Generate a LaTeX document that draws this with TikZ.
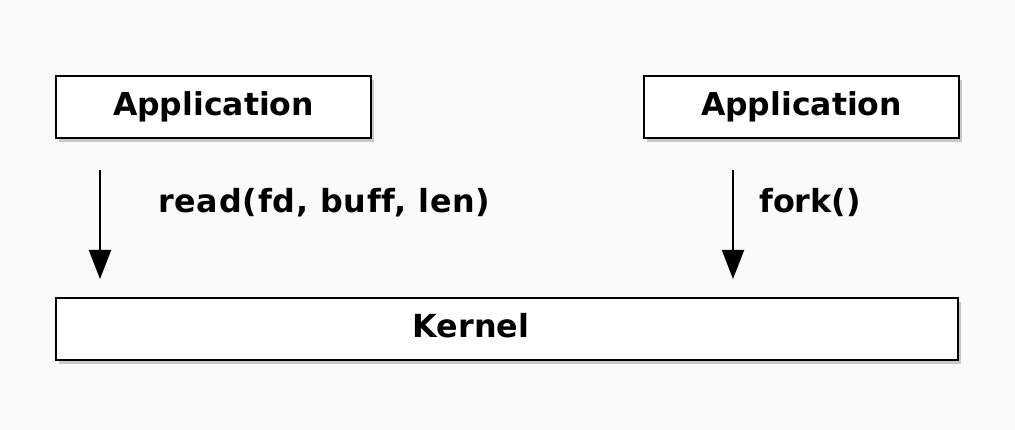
\documentclass[tikz,border=0pt]{standalone}
\usepackage{fontspec}
\setmainfont{DejaVu Sans}[Ligatures=NoCommon]
\newfontfamily\spacedfont{DejaVu Sans}[Ligatures=NoCommon, LetterSpace=2.4]
\usetikzlibrary{arrows.meta,shadows}
\definecolor{bgcol}{HTML}{FAFAFA}
\tikzset{
  box/.style={draw=black, line width=2pt, fill=white, inner sep=0pt,
    drop shadow={shadow xshift=3pt, shadow yshift=-4pt, fill=black, opacity=0.2}},
  lbl/.style={inner sep=0pt, font=\fontsize{31.8}{36}\selectfont\bfseries},
  arr/.style={line width=2pt, -{Triangle[length=29pt,width=22pt]}}
}
\begin{document}
\begin{tikzpicture}[x=1pt,y=-1pt]
\path[fill=bgcol] (0,0) rectangle (1015,430);
\useasboundingbox (0,0) rectangle (1015,430);
\node[box, minimum width=315pt, minimum height=62pt, font=\fontsize{31.5}{36}\selectfont\bfseries] (app1) at (213.5,107) {Application};
\node[box, minimum width=315pt, minimum height=62pt, font=\fontsize{31.5}{36}\selectfont\bfseries] (app2) at (801.5,107) {Application};
\node[box, minimum width=902pt, minimum height=62pt] (kernel) at (507,329) {};
\node[lbl] (kernellbl) at (471,326) {Kernel};
\coordinate (s1) at (100,170);
\coordinate (e1) at (100,279);
\coordinate (s2) at (733,170);
\coordinate (e2) at (733,279);
\draw[arr] (s1) -- (e1);
\draw[arr] (s2) -- (e2);
\node[lbl, anchor=west, font=\spacedfont\fontsize{31.8}{36}\selectfont\bfseries] (readlbl) at (158,203) {read(fd, buff, len)};
\node[lbl, anchor=west] (forklbl) at (759,203) {fork()};
\end{tikzpicture}
\end{document}
